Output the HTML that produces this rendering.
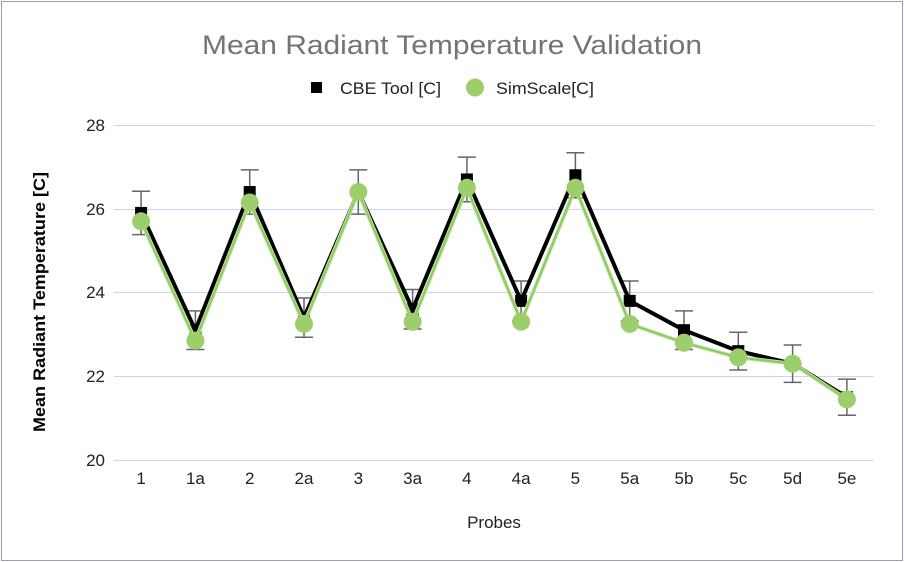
<!DOCTYPE html>
<html>
<head>
<meta charset="utf-8">
<style>
html,body{margin:0;padding:0;background:#fff;}
svg{display:block;}
text{font-family:"Liberation Sans",Arial,sans-serif;}
</style>
</head>
<body>
<svg width="904" height="562" viewBox="0 0 904 562" xmlns="http://www.w3.org/2000/svg">
<rect x="0" y="0" width="904" height="562" fill="#fff"/>
<rect x="1.5" y="1.5" width="901" height="559" fill="none" stroke="#9c9ab5" stroke-width="1"/>

<!-- Title -->
<text x="452" y="54" text-anchor="middle" font-size="27" fill="#747470" textLength="500" lengthAdjust="spacingAndGlyphs">Mean Radiant Temperature Validation</text>

<!-- Legend -->
<rect x="311" y="82" width="11" height="11" fill="#000"/>
<text x="340" y="94" font-size="17" fill="#222" textLength="101" lengthAdjust="spacingAndGlyphs">CBE Tool [C]</text>
<circle cx="475" cy="87.5" r="9" fill="#9ccf6b"/>
<text x="496" y="94" font-size="17" fill="#222" textLength="98" lengthAdjust="spacingAndGlyphs">SimScale[C]</text>

<!-- Gridlines -->
<g stroke="#d0d0fa" stroke-width="1">
<line x1="114" y1="125.5" x2="874" y2="125.5"/>
<line x1="114" y1="209.5" x2="874" y2="209.5"/>
<line x1="114" y1="292.5" x2="874" y2="292.5"/>
<line x1="114" y1="376.5" x2="874" y2="376.5"/>
<line x1="114" y1="460.5" x2="874" y2="460.5"/>
</g>

<!-- Y tick labels -->
<g font-size="17" fill="#222" text-anchor="end">
<text x="105" y="131">28</text>
<text x="105" y="215">26</text>
<text x="105" y="298">24</text>
<text x="105" y="382">22</text>
<text x="105" y="466">20</text>
</g>

<!-- Y axis title -->
<text transform="translate(45,302) rotate(-90)" text-anchor="middle" font-size="17" font-weight="bold" fill="#000" textLength="260" lengthAdjust="spacingAndGlyphs">Mean Radiant Temperature [C]</text>

<!-- X tick labels -->
<g font-size="17" fill="#222" text-anchor="middle">
<text x="141.1" y="484">1</text>
<text x="195.4" y="484">1a</text>
<text x="249.7" y="484">2</text>
<text x="304.0" y="484">2a</text>
<text x="358.3" y="484">3</text>
<text x="412.6" y="484">3a</text>
<text x="466.9" y="484">4</text>
<text x="521.1" y="484">4a</text>
<text x="575.4" y="484">5</text>
<text x="629.7" y="484">5a</text>
<text x="684.0" y="484">5b</text>
<text x="738.3" y="484">5c</text>
<text x="792.6" y="484">5d</text>
<text x="846.9" y="484">5e</text>
</g>

<!-- X axis title -->
<text x="494" y="528" text-anchor="middle" font-size="17" fill="#222">Probes</text>

<!-- Error bars -->
<g stroke="#666" stroke-width="1.5" fill="none">
<path d="M141.1 191.25V234.63M132.1 191.25H150.1M132.1 234.63H150.1"/>
<path d="M195.4 310.84V349.54M186.4 310.84H204.4M186.4 349.54H204.4"/>
<path d="M249.7 169.89V214.11M240.7 169.89H258.7M240.7 214.11H258.7"/>
<path d="M304.0 298.03V337.23M295.0 298.03H313.0M295.0 337.23H313.0"/>
<path d="M358.3 169.89V214.11M349.3 169.89H367.3M349.3 214.11H367.3"/>
<path d="M412.6 289.48V329.02M403.6 289.48H421.6M403.6 329.02H421.6"/>
<path d="M466.9 157.08V201.80M457.9 157.08H475.9M457.9 201.80H475.9"/>
<path d="M521.1 280.95V320.81M512.1 280.95H530.1M512.1 320.81H530.1"/>
<path d="M575.4 152.80V197.70M566.4 152.80H584.4M566.4 197.70H584.4"/>
<path d="M629.7 280.95V320.81M620.7 280.95H638.7M620.7 320.81H638.7"/>
<path d="M684.0 310.84V349.54M675.0 310.84H693.0M675.0 349.54H693.0"/>
<path d="M738.3 332.20V370.06M729.3 332.20H747.3M729.3 370.06H747.3"/>
<path d="M792.6 345.01V382.37M783.6 345.01H801.6M783.6 382.37H801.6"/>
<path d="M846.9 379.18V415.20M837.9 379.18H855.9M837.9 415.20H855.9"/>
</g>

<!-- CBE line -->
<polyline fill="none" stroke="#000" stroke-width="4" stroke-linejoin="round"
points="141.1,212.94 195.4,330.19 249.7,192 304.0,317.63 358.3,192 412.6,309.25 466.9,179.44 521.1,300.88 575.4,175.25 629.7,300.88 684.0,330.19 738.3,351.13 792.6,363.69 846.9,397.19"/>

<!-- CBE markers -->
<g fill="#000">
<rect x="135.1" y="206.94" width="12" height="12"/>
<rect x="189.4" y="324.19" width="12" height="12"/>
<rect x="243.7" y="186" width="12" height="12"/>
<rect x="298.0" y="311.63" width="12" height="12"/>
<rect x="352.3" y="186" width="12" height="12"/>
<rect x="406.6" y="303.25" width="12" height="12"/>
<rect x="460.9" y="173.44" width="12" height="12"/>
<rect x="515.1" y="294.88" width="12" height="12"/>
<rect x="569.4" y="169.25" width="12" height="12"/>
<rect x="623.7" y="294.88" width="12" height="12"/>
<rect x="678.0" y="324.19" width="12" height="12"/>
<rect x="732.3" y="345.13" width="12" height="12"/>
<rect x="786.6" y="357.69" width="12" height="12"/>
<rect x="840.9" y="391.19" width="12" height="12"/>
</g>

<!-- SimScale line -->
<polyline fill="none" stroke="#c5e6ad" stroke-width="4" stroke-linejoin="round"
points="141.1,221.31 195.4,340.66 249.7,202.47 304.0,323.91 358.3,192 412.6,321.81 466.9,187.81 521.1,321.81 575.4,187.81 629.7,323.91 684.0,342.75 738.3,357.41 792.6,363.69 846.9,399.28"/>
<polyline fill="none" stroke="#8fcb5f" stroke-width="2.2" stroke-linejoin="round"
points="141.1,221.31 195.4,340.66 249.7,202.47 304.0,323.91 358.3,192 412.6,321.81 466.9,187.81 521.1,321.81 575.4,187.81 629.7,323.91 684.0,342.75 738.3,357.41 792.6,363.69 846.9,399.28"/>

<!-- SimScale markers -->
<g fill="#9ccf6b">
<circle cx="141.1" cy="221.31" r="9"/>
<circle cx="195.4" cy="340.66" r="9"/>
<circle cx="249.7" cy="202.47" r="9"/>
<circle cx="304.0" cy="323.91" r="9"/>
<circle cx="358.3" cy="192" r="9"/>
<circle cx="412.6" cy="321.81" r="9"/>
<circle cx="466.9" cy="187.81" r="9"/>
<circle cx="521.1" cy="321.81" r="9"/>
<circle cx="575.4" cy="187.81" r="9"/>
<circle cx="629.7" cy="323.91" r="9"/>
<circle cx="684.0" cy="342.75" r="9"/>
<circle cx="738.3" cy="357.41" r="9"/>
<circle cx="792.6" cy="363.69" r="9"/>
<circle cx="846.9" cy="399.28" r="9"/>
</g>
</svg>
</body>
</html>
